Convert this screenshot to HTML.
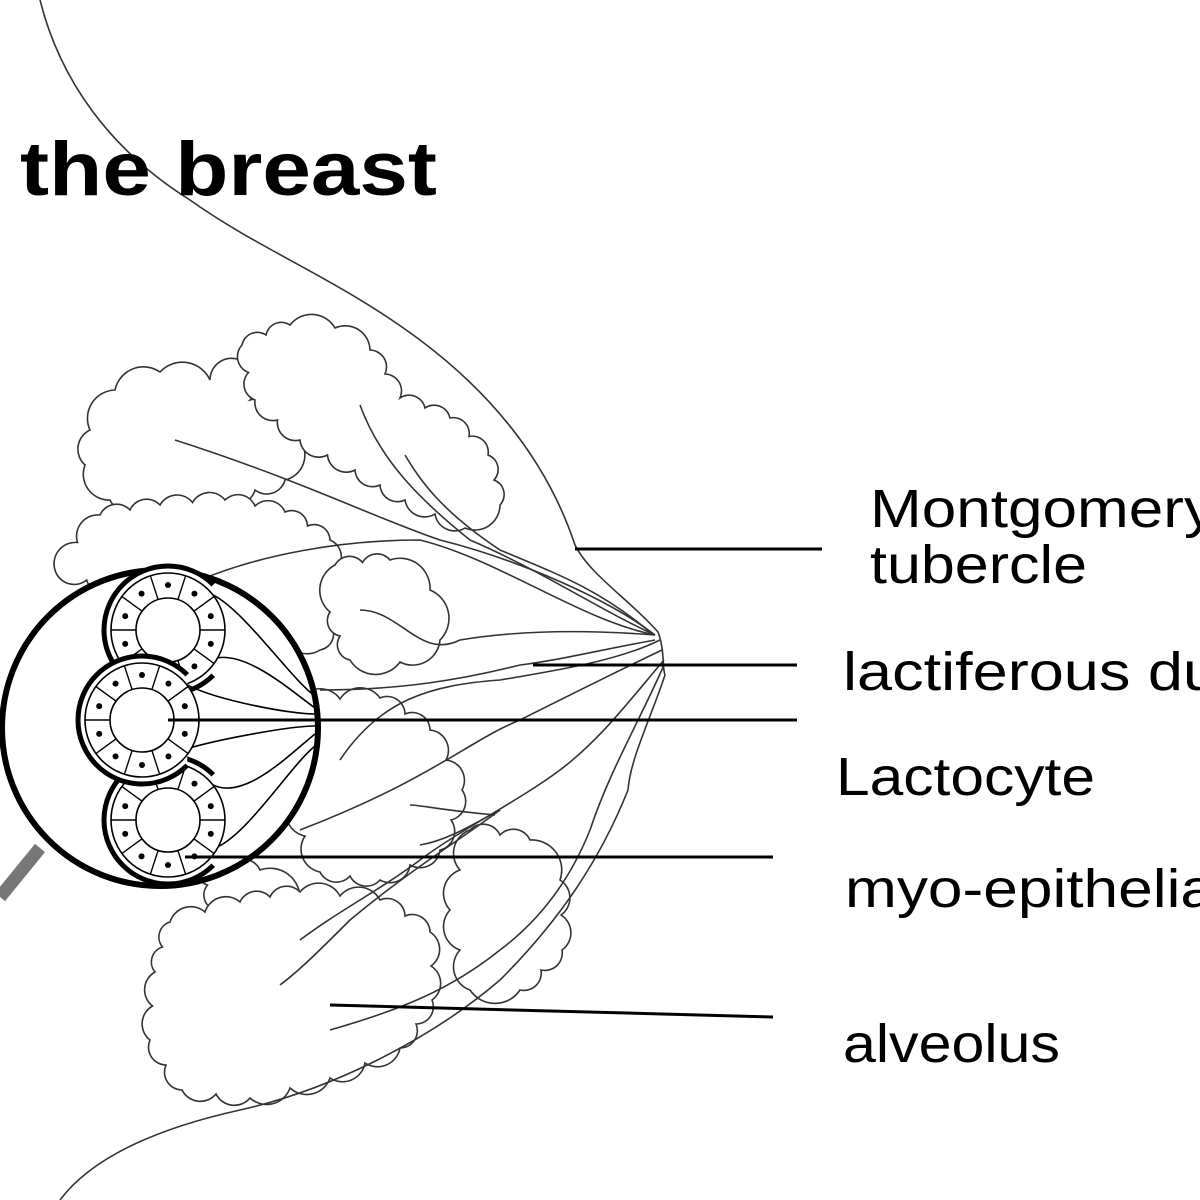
<!DOCTYPE html>
<html><head><meta charset="utf-8"><style>
html,body{margin:0;padding:0;background:#fff;width:1200px;height:1200px;overflow:hidden}
svg{display:block}
text{font-family:"Liberation Sans",Arial,sans-serif;fill:#000}
</style></head><body>
<svg id="s" width="1200" height="1200" viewBox="0 0 1200 1200" xmlns="http://www.w3.org/2000/svg">
<g id="clouds" fill="#fff" stroke="#333" stroke-width="1.6"></g>
<g fill="none" stroke="#333" stroke-width="1.6">
<path d="M40,0 C60,80 110,150 190,200 C260,250 340,280 420,340 C500,400 550,470 575,545 C590,575 630,600 658,632 C665,650 662,668 665,675 C650,720 630,760 628,790 C600,860 560,920 500,980 C430,1040 330,1090 240,1110 C150,1130 90,1160 60,1200"/>
<path d="M655,635 C600,610 540,570 470,540 C420,500 380,460 360,405"/>
<path d="M655,635 C610,600 520,560 440,540 C380,520 300,480 175,440"/>
<path d="M650,632 C600,590 560,575 500,550 C440,510 420,480 405,455"/>
<path d="M655,635 C580,620 500,560 420,540 C340,540 260,555 200,580"/>
<path d="M655,635 C590,630 520,630 460,640 C420,660 400,610 360,610"/>
<path d="M655,640 C600,650 560,660 520,665 C460,680 400,690 320,690"/>
<path d="M660,640 C620,660 560,670 500,680 C430,685 380,700 340,760"/>
<path d="M662,650 C620,670 560,700 520,720 C470,740 430,780 300,830"/>
<path d="M664,660 C630,700 600,740 560,770 C520,800 460,830 420,860 C380,890 340,910 300,940"/>
<path d="M664,665 C640,720 610,770 590,830 C570,880 540,920 500,950 C450,990 400,1010 330,1030"/>
<path d="M500,810 C460,840 410,870 350,920 C320,950 300,970 280,985"/>
<path d="M495,815 C440,810 420,805 410,805"/>
<path d="M420,845 C450,840 480,820 500,810"/>
</g>
<line x1="0" y1="897" x2="40" y2="848" stroke="#777" stroke-width="13"/>
<circle cx="160" cy="728" r="158" fill="#fff" stroke="#000" stroke-width="6"/>
<g id="alv" fill="none" stroke="#000"></g>
<g stroke="#000" stroke-width="3">
<line x1="575" y1="549" x2="822" y2="549"/>
<line x1="533" y1="665" x2="797" y2="665"/>
<line x1="168" y1="720" x2="797" y2="720"/>
<line x1="185" y1="857" x2="773" y2="857"/>
<line x1="330" y1="1005" x2="773" y2="1017"/>
</g>
<text x="20" y="195" font-size="76" font-weight="bold" textLength="417" lengthAdjust="spacingAndGlyphs">the breast</text>
<text x="870" y="527" font-size="54" textLength="345" lengthAdjust="spacingAndGlyphs">Montgomery</text>
<text x="870" y="583" font-size="54" textLength="217" lengthAdjust="spacingAndGlyphs">tubercle</text>
<text x="843" y="690" font-size="54" textLength="375" lengthAdjust="spacingAndGlyphs">lactiferous du</text>
<text x="836" y="795" font-size="54" textLength="259" lengthAdjust="spacingAndGlyphs">Lactocyte</text>
<text x="845" y="907" font-size="54" textLength="370" lengthAdjust="spacingAndGlyphs">myo-epithelia</text>
<text x="843" y="1062" font-size="54" textLength="217" lengthAdjust="spacingAndGlyphs">alveolus</text>
</svg>
<script>
var NS="http://www.w3.org/2000/svg";
function cloud(pts){
  var d="M"+pts[0][0]+","+pts[0][1];
  for(var i=1;i<=pts.length;i++){
    var p=pts[i%pts.length],q=pts[i-1];
    var L=Math.hypot(p[0]-q[0],p[1]-q[1]);
    var n=Math.max(1,Math.round(L/34));
    for(var j=1;j<=n;j++){
      var x=q[0]+(p[0]-q[0])*j/n,y=q[1]+(p[1]-q[1])*j/n,l=L/n*0.6;
      d+=" A"+l.toFixed(1)+","+l.toFixed(1)+" 0 0 1 "+x.toFixed(1)+","+y.toFixed(1);
    }
  }
  var e=document.createElementNS(NS,"path");e.setAttribute("d",d+"Z");
  document.getElementById("clouds").appendChild(e);
}
cloud([[90,430],[115,390],[160,372],[210,380],[240,360],[250,400],[300,440],[285,480],[225,500],[165,510],[110,500],[85,465]]);
cloud([[242,345],[290,325],[335,328],[370,350],[400,398],[450,418],[488,455],[500,505],[465,528],[405,500],[355,470],[300,440],[255,400]]);
cloud([[55,570],[100,515],[160,505],[225,500],[285,512],[330,540],[342,600],[320,650],[250,620],[150,600]]);
cloud([[335,565],[390,560],[430,590],[440,640],[400,662],[350,660],[330,612]]);
cloud([[300,700],[380,698],[430,730],[462,790],[440,850],[380,880],[320,872],[290,800]]);
cloud([[200,860],[260,870],[300,900],[270,915],[215,910]]);
cloud([[470,830],[530,840],[560,880],[562,950],[520,990],[470,990],[450,910]]);
cloud([[170,922],[240,902],[300,892],[380,900],[430,932],[432,1000],[400,1048],[330,1078],[250,1098],[182,1090],[150,1040],[155,972]]);

var g=document.getElementById("alv");
function el(t,a){var e=document.createElementNS(NS,t);for(var k in a)e.setAttribute(k,a[k]);g.appendChild(e);return e;}
function alveolus(cx,cy,R){
  el("path",{d:"M"+(cx+R*0.7)+","+(cy-R*0.55)+" C"+(cx+R*1.2)+","+(cy-R*0.3)+" 290,"+(cy+(720-cy)*0.6-6)+" 315,"+(cy+(720-cy)*0.8-6),"stroke-width":1.6});
  el("path",{d:"M"+(cx+R*0.7)+","+(cy+R*0.45)+" C"+(cx+R*1.2)+","+(cy+R*0.3)+" 290,"+(cy+(720-cy)*0.6+6)+" 315,"+(cy+(720-cy)*0.8+6),"stroke-width":1.6});
  var a1=-0.25*Math.PI,a2=0.25*Math.PI;
  var x1=cx+R*Math.cos(a1),y1=cy+R*Math.sin(a1),x2=cx+R*Math.cos(a2),y2=cy+R*Math.sin(a2);
  el("path",{d:"M"+x1+","+y1+" A"+R+","+R+" 0 1 0 "+x2+","+y2,"stroke-width":5,fill:"#fff"});
  el("circle",{cx:cx,cy:cy,r:R-7,"stroke-width":1.6,fill:"#fff"});
  el("circle",{cx:cx,cy:cy,r:R-32,"stroke-width":1.6});
  for(var i=0;i<10;i++){
    var a=i*Math.PI/5;
    el("line",{x1:cx+(R-32)*Math.cos(a),y1:cy+(R-32)*Math.sin(a),x2:cx+(R-7)*Math.cos(a),y2:cy+(R-7)*Math.sin(a),"stroke-width":1.4});
    var b=a+Math.PI/10;
    el("circle",{cx:cx+(R-19)*Math.cos(b),cy:cy+(R-19)*Math.sin(b),r:3,fill:"#000",stroke:"none"});
  }
}
alveolus(168,630,64);
alveolus(168,820,64);
alveolus(142,720,64);
</script>
</body></html>
